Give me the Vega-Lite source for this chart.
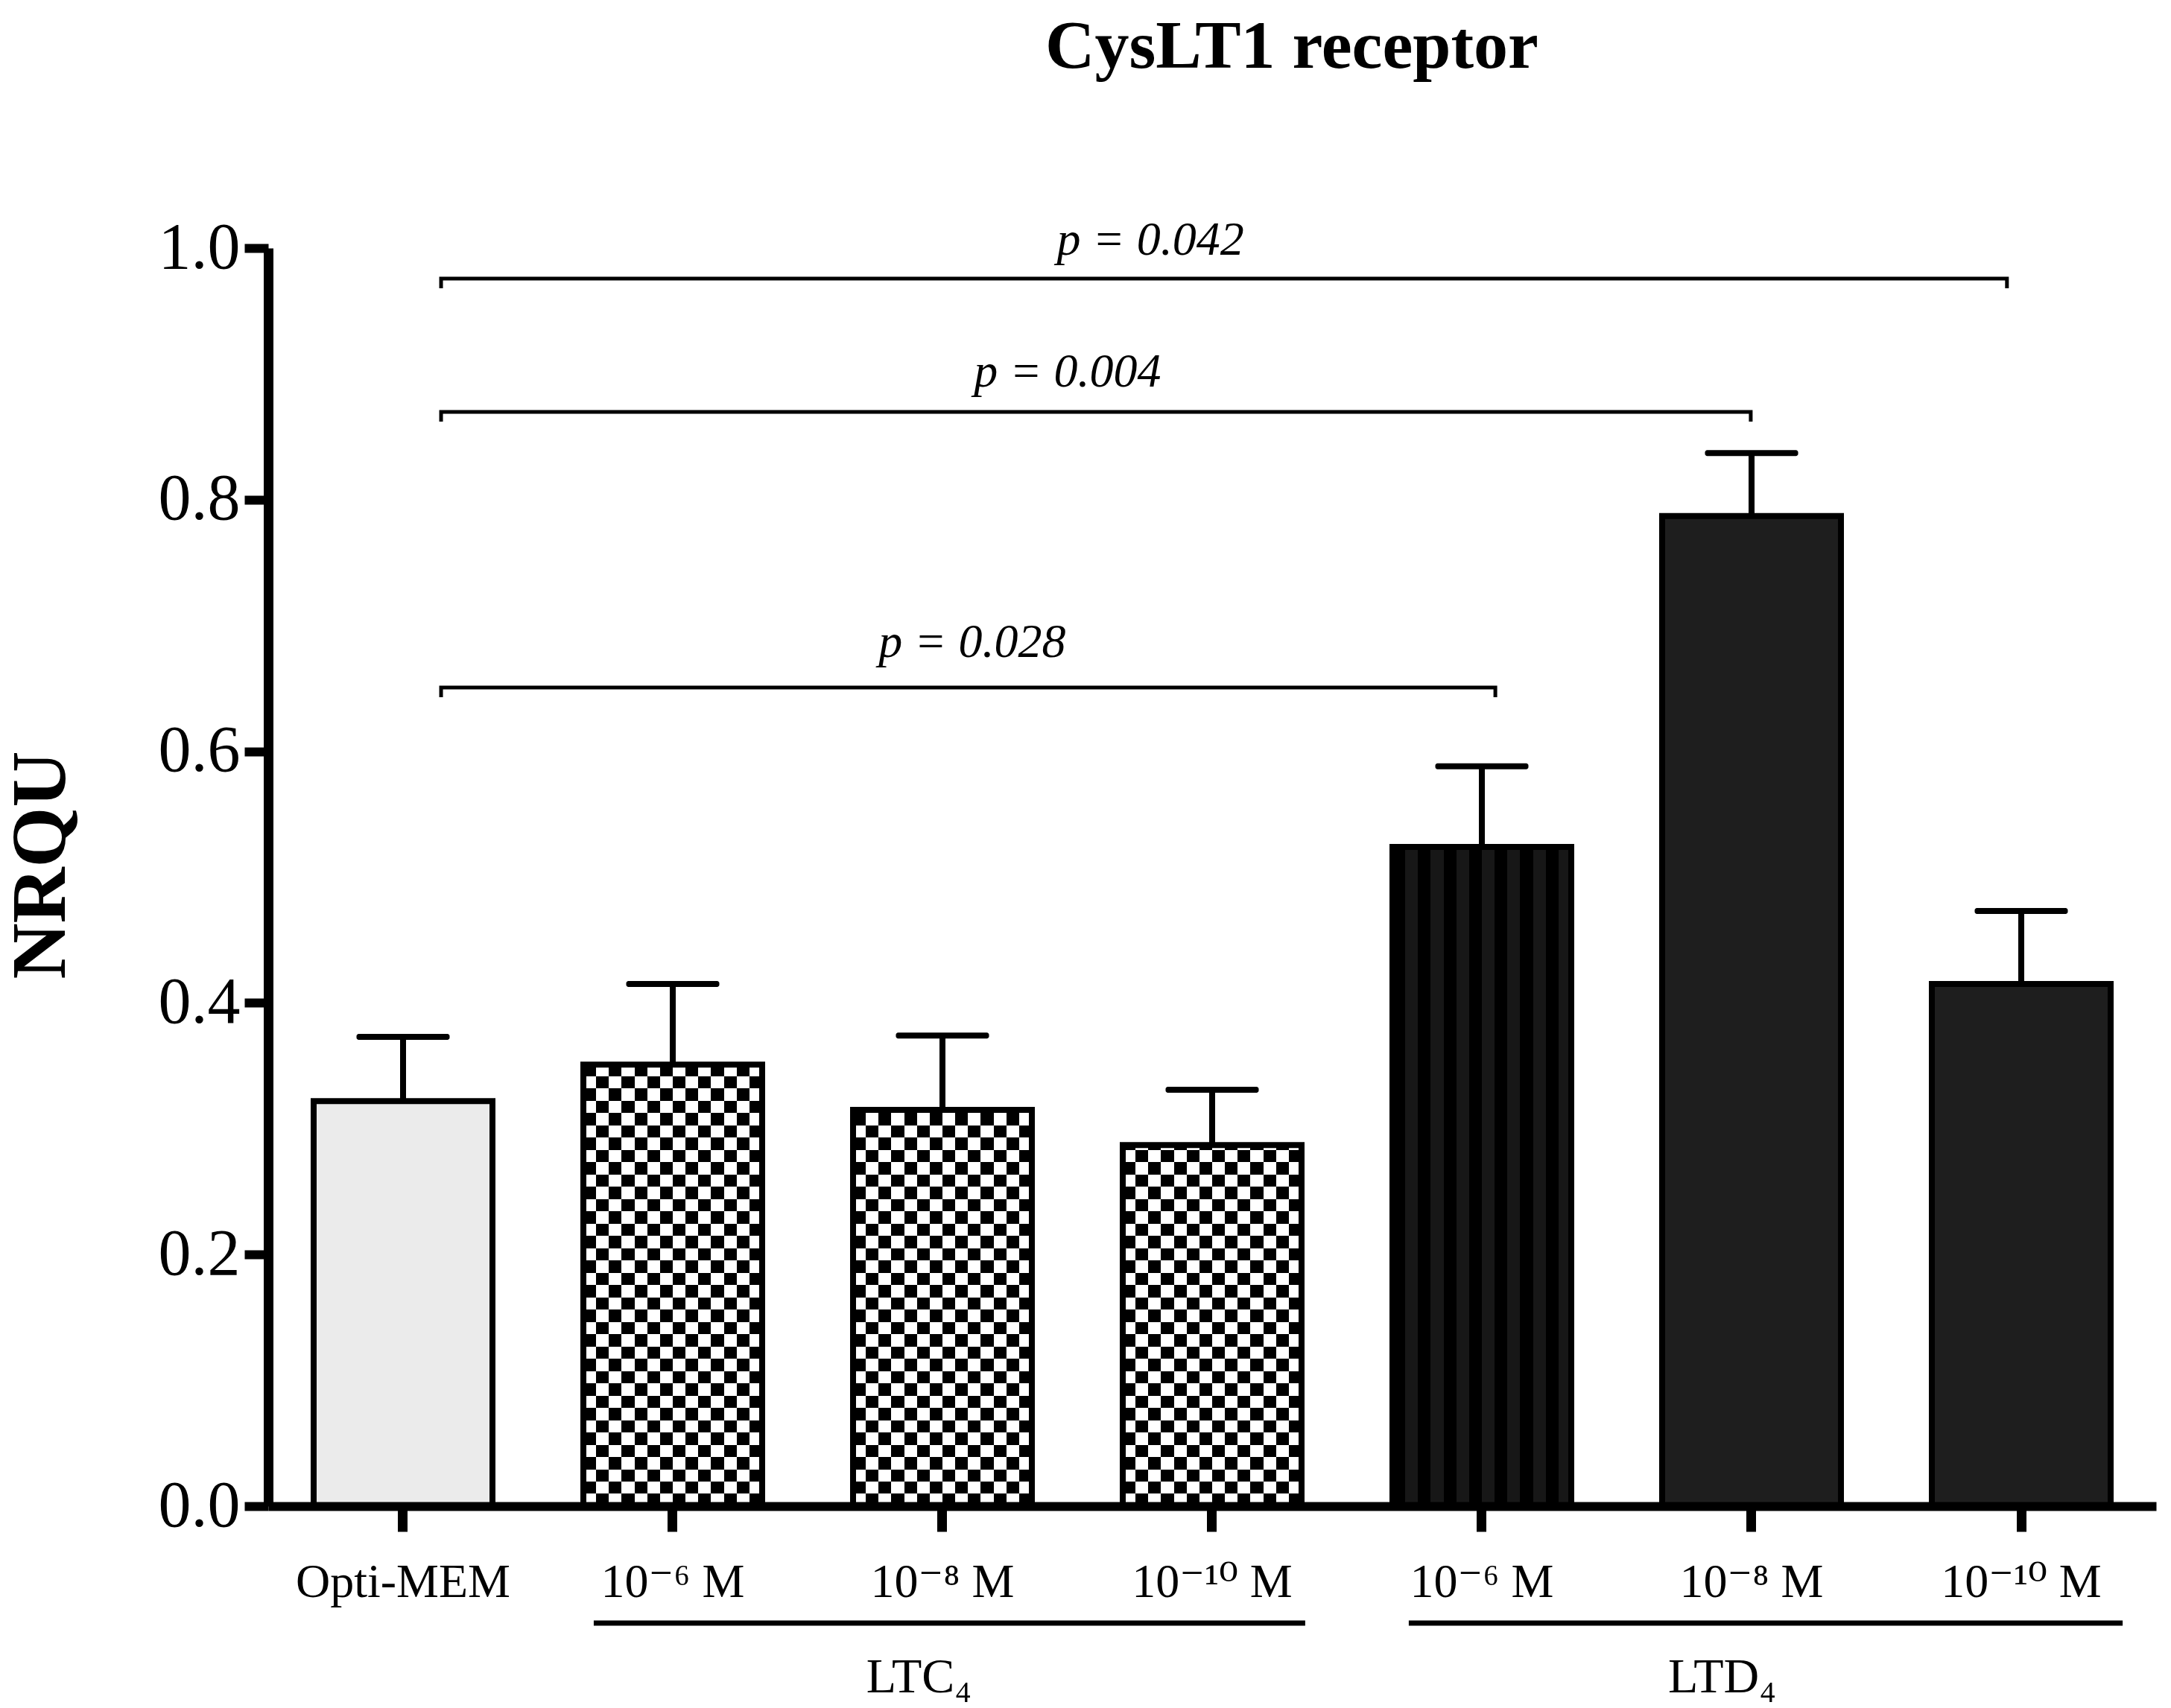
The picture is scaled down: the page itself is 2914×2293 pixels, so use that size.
{
  "$schema": "https://vega.github.io/schema/vega-lite/v6.json",
  "width": 2534,
  "height": 1689,
  "autosize": "none",
  "padding": {"left": 360, "top": 333, "right": 20, "bottom": 271},
  "background": "white",
  "config": {"font": "Liberation Serif", "view": {"stroke": null}},
  "title": {
    "text": "CysLT1 receptor",
    "font": "Liberation Serif",
    "fontSize": 92,
    "fontWeight": "bold",
    "color": "black",
    "anchor": "middle",
    "frame": "group",
    "baseline": "alphabetic",
    "dx": 107,
    "offset": 106
  },
  "datasets": {
    "bars": [
      {"key": "Control|Opti-MEM", "group": "Control", "conc": "Opti-MEM", "value": 0.322, "err": 0.373},
      {"key": "LTC₄|10⁻⁶ M", "group": "LTC₄", "conc": "10⁻⁶ M", "value": 0.351, "err": 0.415},
      {"key": "LTC₄|10⁻⁸ M", "group": "LTC₄", "conc": "10⁻⁸ M", "value": 0.315, "err": 0.374},
      {"key": "LTC₄|10⁻¹⁰ M", "group": "LTC₄", "conc": "10⁻¹⁰ M", "value": 0.287, "err": 0.331},
      {"key": "LTD₄|10⁻⁶ M", "group": "LTD₄", "conc": "10⁻⁶ M", "value": 0.524, "err": 0.588},
      {"key": "LTD₄|10⁻⁸ M", "group": "LTD₄", "conc": "10⁻⁸ M", "value": 0.787, "err": 0.837},
      {"key": "LTD₄|10⁻¹⁰ M", "group": "LTD₄", "conc": "10⁻¹⁰ M", "value": 0.415, "err": 0.473}
    ],
    "brackets": [
      {"b": "p042", "ord": 1, "x": 0.141, "y": 0.968},
      {"b": "p042", "ord": 2, "x": 0.141, "y": 0.9757},
      {"b": "p042", "ord": 3, "x": 5.947, "y": 0.9757},
      {"b": "p042", "ord": 4, "x": 5.947, "y": 0.968},
      {"b": "p004", "ord": 1, "x": 0.141, "y": 0.862},
      {"b": "p004", "ord": 2, "x": 0.141, "y": 0.8698},
      {"b": "p004", "ord": 3, "x": 4.997, "y": 0.8698},
      {"b": "p004", "ord": 4, "x": 4.997, "y": 0.862},
      {"b": "p028", "ord": 1, "x": 0.141, "y": 0.643},
      {"b": "p028", "ord": 2, "x": 0.141, "y": 0.6507},
      {"b": "p028", "ord": 3, "x": 4.05, "y": 0.6507},
      {"b": "p028", "ord": 4, "x": 4.05, "y": 0.643}
    ],
    "groups": [
      {"label": "LTC₄", "x1": 0.707, "x2": 3.345, "xc": 1.913},
      {"label": "LTD₄", "x1": 3.729, "x2": 6.376, "xc": 4.891}
    ],
    "pvals": [
      {"label": "p = 0.042", "x": 2.771, "y": 0.9947},
      {"label": "p = 0.004", "x": 2.464, "y": 0.8899},
      {"label": "p = 0.028", "x": 2.11, "y": 0.675}
    ]
  },
  "layer": [
    {
      "data": {"name": "bars"},
      "encoding": {
        "x": {
          "field": "key",
          "type": "nominal",
          "scale": {
            "domain": ["Control|Opti-MEM", "LTC₄|10⁻⁶ M", "LTC₄|10⁻⁸ M", "LTC₄|10⁻¹⁰ M", "LTD₄|10⁻⁶ M", "LTD₄|10⁻⁸ M", "LTD₄|10⁻¹⁰ M"],
            "paddingInner": 0.337,
            "paddingOuter": 0.1685
          },
          "axis": {
            "title": null,
            "labelExpr": "split(datum.value, '|')[1]",
            "labelAngle": 0,
            "labelLimit": 0,
            "labelFont": "Liberation Serif, DejaVu Serif",
            "labelFontSize": 64,
            "labelColor": "black",
            "labelBaseline": "alphabetic",
            "labelPadding": 87,
            "tickSize": 34,
            "tickWidth": 13,
            "tickColor": "black",
            "domainColor": "black",
            "domainWidth": 12,
            "zindex": 1
          }
        }
      },
      "layer": [
        {
          "transform": [{"filter": "datum.group == 'Control'"}],
          "mark": {"type": "bar", "fill": "#ebebeb"},
          "encoding": {
            "y": {
              "field": "value",
              "type": "quantitative",
              "scale": {"domain": [0, 1], "nice": false},
              "axis": {
                "values": [0, 0.2, 0.4, 0.6, 0.8, 1],
                "format": ".1f",
                "labelFontSize": 88,
                "labelColor": "black",
                "labelPadding": 6,
                "tickSize": 32,
                "tickWidth": 12,
                "tickColor": "black",
                "domainColor": "black",
                "domainWidth": 13,
                "grid": false,
                "title": "NRQU",
                "titleFontSize": 104,
                "titleFontWeight": "bold",
                "titleColor": "black",
                "titleX": -305,
                "titleY": 828,
                "titleAngle": 270,
                "titleAlign": "center",
                "titleBaseline": "middle"
              }
            }
          }
        },
        {
          "transform": [{"filter": "datum.group == 'LTD₄' && datum.conc != '10⁻⁶ M'"}],
          "mark": {"type": "bar", "fill": "#1e1e1e"},
          "encoding": {"y": {"field": "value", "type": "quantitative"}}
        },
        {
          "transform": [{"filter": "datum.group == 'LTD₄' && datum.conc == '10⁻⁶ M'"}],
          "mark": {
            "type": "bar",
            "fill": {
              "gradient": "linear", "x1": 0, "x2": 1, "y1": 0, "y2": 0,
              "stops": [
                {"offset": 0, "color": "#000"}, {"offset": 0.0714, "color": "#000"},
                {"offset": 0.0714, "color": "#171717"}, {"offset": 0.1429, "color": "#171717"},
                {"offset": 0.1429, "color": "#000"}, {"offset": 0.2143, "color": "#000"},
                {"offset": 0.2143, "color": "#171717"}, {"offset": 0.2857, "color": "#171717"},
                {"offset": 0.2857, "color": "#000"}, {"offset": 0.3571, "color": "#000"},
                {"offset": 0.3571, "color": "#171717"}, {"offset": 0.4286, "color": "#171717"},
                {"offset": 0.4286, "color": "#000"}, {"offset": 0.5, "color": "#000"},
                {"offset": 0.5, "color": "#171717"}, {"offset": 0.5714, "color": "#171717"},
                {"offset": 0.5714, "color": "#000"}, {"offset": 0.6429, "color": "#000"},
                {"offset": 0.6429, "color": "#171717"}, {"offset": 0.7143, "color": "#171717"},
                {"offset": 0.7143, "color": "#000"}, {"offset": 0.7857, "color": "#000"},
                {"offset": 0.7857, "color": "#171717"}, {"offset": 0.8571, "color": "#171717"},
                {"offset": 0.8571, "color": "#000"}, {"offset": 0.9286, "color": "#000"},
                {"offset": 0.9286, "color": "#171717"}, {"offset": 1, "color": "#171717"}
              ]
            }
          },
          "encoding": {"y": {"field": "value", "type": "quantitative"}}
        },
        {
          "transform": [{"filter": "datum.group == 'LTC₄'"}],
          "mark": {
            "type": "bar",
            "fill": {
              "gradient": "linear", "x1": 0, "x2": 1, "y1": 0, "y2": 0,
              "stops": [
                {"offset": 0, "color": "#000"}, {"offset": 0.0714, "color": "#000"},
                {"offset": 0.0714, "color": "#fff"}, {"offset": 0.1429, "color": "#fff"},
                {"offset": 0.1429, "color": "#000"}, {"offset": 0.2143, "color": "#000"},
                {"offset": 0.2143, "color": "#fff"}, {"offset": 0.2857, "color": "#fff"},
                {"offset": 0.2857, "color": "#000"}, {"offset": 0.3571, "color": "#000"},
                {"offset": 0.3571, "color": "#fff"}, {"offset": 0.4286, "color": "#fff"},
                {"offset": 0.4286, "color": "#000"}, {"offset": 0.5, "color": "#000"},
                {"offset": 0.5, "color": "#fff"}, {"offset": 0.5714, "color": "#fff"},
                {"offset": 0.5714, "color": "#000"}, {"offset": 0.6429, "color": "#000"},
                {"offset": 0.6429, "color": "#fff"}, {"offset": 0.7143, "color": "#fff"},
                {"offset": 0.7143, "color": "#000"}, {"offset": 0.7857, "color": "#000"},
                {"offset": 0.7857, "color": "#fff"}, {"offset": 0.8571, "color": "#fff"},
                {"offset": 0.8571, "color": "#000"}, {"offset": 0.9286, "color": "#000"},
                {"offset": 0.9286, "color": "#fff"}, {"offset": 1, "color": "#fff"}
              ]
            }
          },
          "encoding": {"y": {"field": "value", "type": "quantitative"}}
        },
        {
          "transform": [{"filter": "datum.group == 'LTC₄'"}],
          "mark": {
            "type": "bar",
            "blend": "difference",
            "fill": {
              "gradient": "linear", "x1": 0, "x2": 0, "y1": 0, "y2": 1,
              "stops": [
                {"offset": 0, "color": "#fff"}, {"offset": 0.02326, "color": "#fff"},
                {"offset": 0.02326, "color": "#000"}, {"offset": 0.04651, "color": "#000"},
                {"offset": 0.04651, "color": "#fff"}, {"offset": 0.06977, "color": "#fff"},
                {"offset": 0.06977, "color": "#000"}, {"offset": 0.09302, "color": "#000"},
                {"offset": 0.09302, "color": "#fff"}, {"offset": 0.11628, "color": "#fff"},
                {"offset": 0.11628, "color": "#000"}, {"offset": 0.13953, "color": "#000"},
                {"offset": 0.13953, "color": "#fff"}, {"offset": 0.16279, "color": "#fff"},
                {"offset": 0.16279, "color": "#000"}, {"offset": 0.18605, "color": "#000"},
                {"offset": 0.18605, "color": "#fff"}, {"offset": 0.2093, "color": "#fff"},
                {"offset": 0.2093, "color": "#000"}, {"offset": 0.23256, "color": "#000"},
                {"offset": 0.23256, "color": "#fff"}, {"offset": 0.25581, "color": "#fff"},
                {"offset": 0.25581, "color": "#000"}, {"offset": 0.27907, "color": "#000"},
                {"offset": 0.27907, "color": "#fff"}, {"offset": 0.30233, "color": "#fff"},
                {"offset": 0.30233, "color": "#000"}, {"offset": 0.32558, "color": "#000"},
                {"offset": 0.32558, "color": "#fff"}, {"offset": 0.34884, "color": "#fff"},
                {"offset": 0.34884, "color": "#000"}, {"offset": 0.37209, "color": "#000"},
                {"offset": 0.37209, "color": "#fff"}, {"offset": 0.39535, "color": "#fff"},
                {"offset": 0.39535, "color": "#000"}, {"offset": 0.4186, "color": "#000"},
                {"offset": 0.4186, "color": "#fff"}, {"offset": 0.44186, "color": "#fff"},
                {"offset": 0.44186, "color": "#000"}, {"offset": 0.46512, "color": "#000"},
                {"offset": 0.46512, "color": "#fff"}, {"offset": 0.48837, "color": "#fff"},
                {"offset": 0.48837, "color": "#000"}, {"offset": 0.51163, "color": "#000"},
                {"offset": 0.51163, "color": "#fff"}, {"offset": 0.53488, "color": "#fff"},
                {"offset": 0.53488, "color": "#000"}, {"offset": 0.55814, "color": "#000"},
                {"offset": 0.55814, "color": "#fff"}, {"offset": 0.5814, "color": "#fff"},
                {"offset": 0.5814, "color": "#000"}, {"offset": 0.60465, "color": "#000"},
                {"offset": 0.60465, "color": "#fff"}, {"offset": 0.62791, "color": "#fff"},
                {"offset": 0.62791, "color": "#000"}, {"offset": 0.65116, "color": "#000"},
                {"offset": 0.65116, "color": "#fff"}, {"offset": 0.67442, "color": "#fff"},
                {"offset": 0.67442, "color": "#000"}, {"offset": 0.69767, "color": "#000"},
                {"offset": 0.69767, "color": "#fff"}, {"offset": 0.72093, "color": "#fff"},
                {"offset": 0.72093, "color": "#000"}, {"offset": 0.74419, "color": "#000"},
                {"offset": 0.74419, "color": "#fff"}, {"offset": 0.76744, "color": "#fff"},
                {"offset": 0.76744, "color": "#000"}, {"offset": 0.7907, "color": "#000"},
                {"offset": 0.7907, "color": "#fff"}, {"offset": 0.81395, "color": "#fff"},
                {"offset": 0.81395, "color": "#000"}, {"offset": 0.83721, "color": "#000"},
                {"offset": 0.83721, "color": "#fff"}, {"offset": 0.86047, "color": "#fff"},
                {"offset": 0.86047, "color": "#000"}, {"offset": 0.88372, "color": "#000"},
                {"offset": 0.88372, "color": "#fff"}, {"offset": 0.90698, "color": "#fff"},
                {"offset": 0.90698, "color": "#000"}, {"offset": 0.93023, "color": "#000"},
                {"offset": 0.93023, "color": "#fff"}, {"offset": 0.95349, "color": "#fff"},
                {"offset": 0.95349, "color": "#000"}, {"offset": 0.97674, "color": "#000"},
                {"offset": 0.97674, "color": "#fff"}, {"offset": 1, "color": "#fff"}
              ]
            }
          },
          "encoding": {
            "y": {"datum": 0.42, "type": "quantitative"},
            "y2": {"datum": 0}
          }
        },
        {
          "transform": [{"filter": "datum.group == 'LTC₄'"}],
          "mark": {"type": "bar", "fill": "white", "stroke": "white", "strokeWidth": 4},
          "encoding": {
            "y": {"field": "value", "type": "quantitative"},
            "y2": {"datum": 0.425}
          }
        },
        {
          "mark": {"type": "bar", "fillOpacity": 0, "stroke": "black", "strokeWidth": 8},
          "encoding": {"y": {"field": "value", "type": "quantitative"}}
        },
        {
          "mark": {"type": "rule", "color": "black", "strokeWidth": 8},
          "encoding": {
            "y": {"field": "value", "type": "quantitative"},
            "y2": {"field": "err"}
          }
        },
        {
          "mark": {"type": "tick", "color": "black", "opacity": 1, "size": 125, "thickness": 8, "cornerRadius": 3},
          "encoding": {"y": {"field": "err", "type": "quantitative"}}
        }
      ]
    },
    {
      "layer": [
        {
          "data": {"name": "brackets"},
          "mark": {"type": "line", "color": "black", "strokeWidth": 5},
          "encoding": {
            "x": {"field": "x", "type": "quantitative", "scale": {"domain": [-0.5, 6.5], "nice": false, "zero": false}, "axis": null},
            "y": {
              "field": "y",
              "type": "quantitative",
              "scale": {"domain": [0, 1], "nice": false},
              "axis": {
                "orient": "left",
                "values": [0.04, 0.08, 0.12, 0.16, 0.24, 0.28, 0.32, 0.36, 0.44, 0.48, 0.52, 0.56, 0.64, 0.68, 0.72, 0.76, 0.84, 0.88, 0.92, 0.96],
                "labels": false,
                "domain": false,
                "grid": false,
                "tickSize": 22,
                "tickWidth": 11,
                "tickColor": "black",
                "title": null
              }
            },
            "detail": {"field": "b"},
            "order": {"field": "ord"}
          }
        },
        {
          "data": {"name": "groups"},
          "mark": {"type": "rule", "color": "black", "strokeWidth": 7},
          "encoding": {
            "x": {"field": "x1", "type": "quantitative", "scale": {"domain": [-0.5, 6.5], "nice": false, "zero": false}, "axis": null},
            "x2": {"field": "x2"},
            "y": {"datum": -0.093, "type": "quantitative", "axis": null}
          }
        },
        {
          "data": {"name": "groups"},
          "mark": {"type": "text", "fontSize": 66, "align": "center", "baseline": "alphabetic", "color": "black"},
          "encoding": {
            "x": {"field": "xc", "type": "quantitative", "scale": {"domain": [-0.5, 6.5], "nice": false, "zero": false}, "axis": null},
            "y": {"datum": -0.148, "type": "quantitative", "axis": null},
            "text": {"field": "label"}
          }
        },
        {
          "data": {"name": "pvals"},
          "mark": {"type": "text", "fontSize": 64, "fontStyle": "italic", "align": "center", "baseline": "alphabetic", "color": "black"},
          "encoding": {
            "x": {"field": "x", "type": "quantitative", "scale": {"domain": [-0.5, 6.5], "nice": false, "zero": false}, "axis": null},
            "y": {"field": "y", "type": "quantitative", "axis": null},
            "text": {"field": "label"}
          }
        }
      ]
    }
  ],
  "resolve": {
    "scale": {"x": "independent"},
    "axis": {"x": "independent", "y": "independent"}
  }
}
